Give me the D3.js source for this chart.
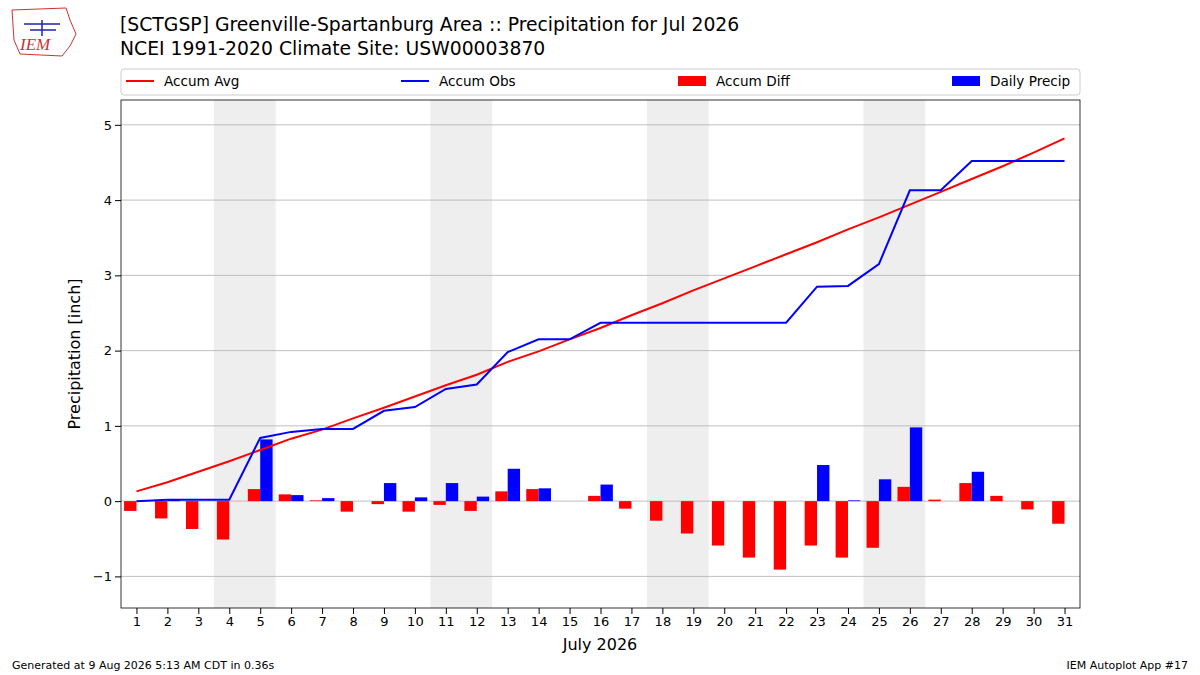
<!DOCTYPE html>
<html><head><meta charset="utf-8">
<script src="https://cdn.jsdelivr.net/npm/d3@7"></script>
<style>body{margin:0;background:#fff;font-family:"DejaVu Sans",sans-serif}</style>
</head><body><div id="chart"></div>
<script>
var days = d3.range(1, 32);
var accumAvg = [0.13,0.25,0.39,0.53,0.68,0.83,0.95,1.10,1.24,1.39,1.54,1.68,1.85,1.99,2.15,2.30,2.47,2.63,2.80,2.96,3.12,3.28,3.44,3.61,3.77,3.94,4.11,4.28,4.45,4.63,4.82];
var accumObs = [0.00,0.02,0.02,0.02,0.84,0.92,0.96,0.96,1.20,1.25,1.49,1.55,1.98,2.15,2.15,2.37,2.37,2.37,2.37,2.37,2.37,2.37,2.85,2.86,3.15,4.13,4.13,4.52,4.52,4.52,4.52];
var accumDiff = [-0.13,-0.23,-0.37,-0.51,0.16,0.09,0.01,-0.14,-0.04,-0.14,-0.05,-0.13,0.13,0.16,0.00,0.07,-0.10,-0.26,-0.43,-0.59,-0.75,-0.91,-0.59,-0.75,-0.62,0.19,0.02,0.24,0.07,-0.11,-0.30];
var dailyPrecip = [0,0.02,0,0,0.82,0.08,0.04,0,0.24,0.05,0.24,0.06,0.43,0.17,0,0.22,0,0,0,0,0,0,0.48,0.01,0.29,0.98,0,0.39,0,0,0];
var weekends = [[3.5,5.5],[10.5,12.5],[17.5,19.5],[24.5,26.5]];
var yTicks = [-1,0,1,2,3,4,5];

var svg = d3.select("#chart").append("svg").attr("width",1200).attr("height",675);
var L=121,R=1080,T=100,B=608;
var x = d3.scaleLinear().domain([0.5,31.5]).range([L,R]);
var y = d3.scaleLinear().domain([-1.42,5.33]).range([B,T]);
var bw = (x(2)-x(1))*0.4;

svg.selectAll(".wk").data(weekends).enter().append("rect")
  .attr("x",d=>x(d[0])).attr("width",d=>x(d[1])-x(d[0]))
  .attr("y",T).attr("height",B-T).attr("fill","#eeeeee");
svg.selectAll(".grid").data(yTicks).enter().append("line")
  .attr("x1",L).attr("x2",R).attr("y1",d=>y(d)).attr("y2",d=>y(d))
  .attr("stroke","#b0b0b0").attr("stroke-width",0.8);

svg.selectAll(".diff").data(days).enter().append("rect")
  .attr("x",d=>x(d)-bw).attr("width",bw)
  .attr("y",(d,i)=>y(Math.max(0,accumDiff[i])))
  .attr("height",(d,i)=>Math.abs(y(accumDiff[i])-y(0))).attr("fill","red");
svg.selectAll(".daily").data(days).enter().append("rect")
  .attr("x",d=>x(d)).attr("width",bw)
  .attr("y",(d,i)=>y(dailyPrecip[i]))
  .attr("height",(d,i)=>y(0)-y(dailyPrecip[i])).attr("fill","blue");

var line = d3.line().x((d,i)=>x(days[i])).y(d=>y(d));
svg.append("path").attr("d",line(accumAvg)).attr("fill","none").attr("stroke","red").attr("stroke-width",2);
svg.append("path").attr("d",line(accumObs)).attr("fill","none").attr("stroke","blue").attr("stroke-width",2);

svg.append("rect").attr("x",L).attr("y",T).attr("width",R-L).attr("height",B-T).attr("fill","none").attr("stroke","#000").attr("stroke-width",0.8);

var xa = svg.append("g").attr("transform",`translate(0,${B})`).call(d3.axisBottom(x).tickValues(days).tickSizeOuter(0));
var ya = svg.append("g").attr("transform",`translate(${L},0)`).call(d3.axisLeft(y).tickValues(yTicks).tickFormat(d=>d<0?"\u2212"+(-d):d).tickSizeOuter(0));
[xa,ya].forEach(a=>{a.select(".domain").remove();a.selectAll("text").attr("font-size",13).attr("font-family","DejaVu Sans").attr("fill","#000");});

svg.append("text").attr("x",600).attr("y",650).attr("text-anchor","middle").attr("font-size",16).text("July 2026");
svg.append("text").attr("transform","translate(80,354) rotate(-90)").attr("text-anchor","middle").attr("font-size",16).text("Precipitation [inch]");

svg.append("text").attr("x",120).attr("y",31).attr("font-size",18.8).text("[SCTGSP] Greenville-Spartanburg Area :: Precipitation for Jul 2026");
svg.append("text").attr("x",120).attr("y",55).attr("font-size",18.8).text("NCEI 1991-2020 Climate Site: USW00003870");

// legend
svg.append("rect").attr("x",121).attr("y",69).attr("width",959).attr("height",26).attr("rx",3).attr("fill","#fff").attr("stroke","#ccc");
var leg = [{t:"Accum Avg",c:"red",k:"l",x:126},{t:"Accum Obs",c:"blue",k:"l",x:401},{t:"Accum Diff",c:"red",k:"b",x:678},{t:"Daily Precip",c:"blue",k:"b",x:952}];
leg.forEach(d=>{
  if(d.k=="l") svg.append("line").attr("x1",d.x).attr("x2",d.x+28).attr("y1",81).attr("y2",81).attr("stroke",d.c).attr("stroke-width",2);
  else svg.append("rect").attr("x",d.x).attr("y",76).attr("width",28).attr("height",10).attr("fill",d.c);
  svg.append("text").attr("x",d.x+38).attr("y",86).attr("font-size",13.6).text(d.t);
});

// logo
var lg = svg.append("g");
lg.append("path").attr("d","M12,10 L66,8 L70,20 L76,34 L70,46 L62,56 L20,54 L14,40 Z").attr("fill","#fff").attr("stroke","#c33").attr("stroke-width",1);
lg.append("text").attr("x",20).attr("y",50).attr("font-size",17).attr("font-style","italic").attr("font-family","Liberation Serif").attr("fill","#c33").text("IEM");
lg.append("path").attr("d","M24,24 L60,24 M42,20 L42,36 M30,30 L56,30").attr("stroke","#22a").attr("stroke-width",1.5).attr("fill","none");

svg.append("text").attr("x",12).attr("y",669).attr("font-size",11).text("Generated at 9 Aug 2026 5:13 AM CDT in 0.36s");
svg.append("text").attr("x",1188).attr("y",669).attr("text-anchor","end").attr("font-size",11).text("IEM Autoplot App #17");
</script></body></html>
